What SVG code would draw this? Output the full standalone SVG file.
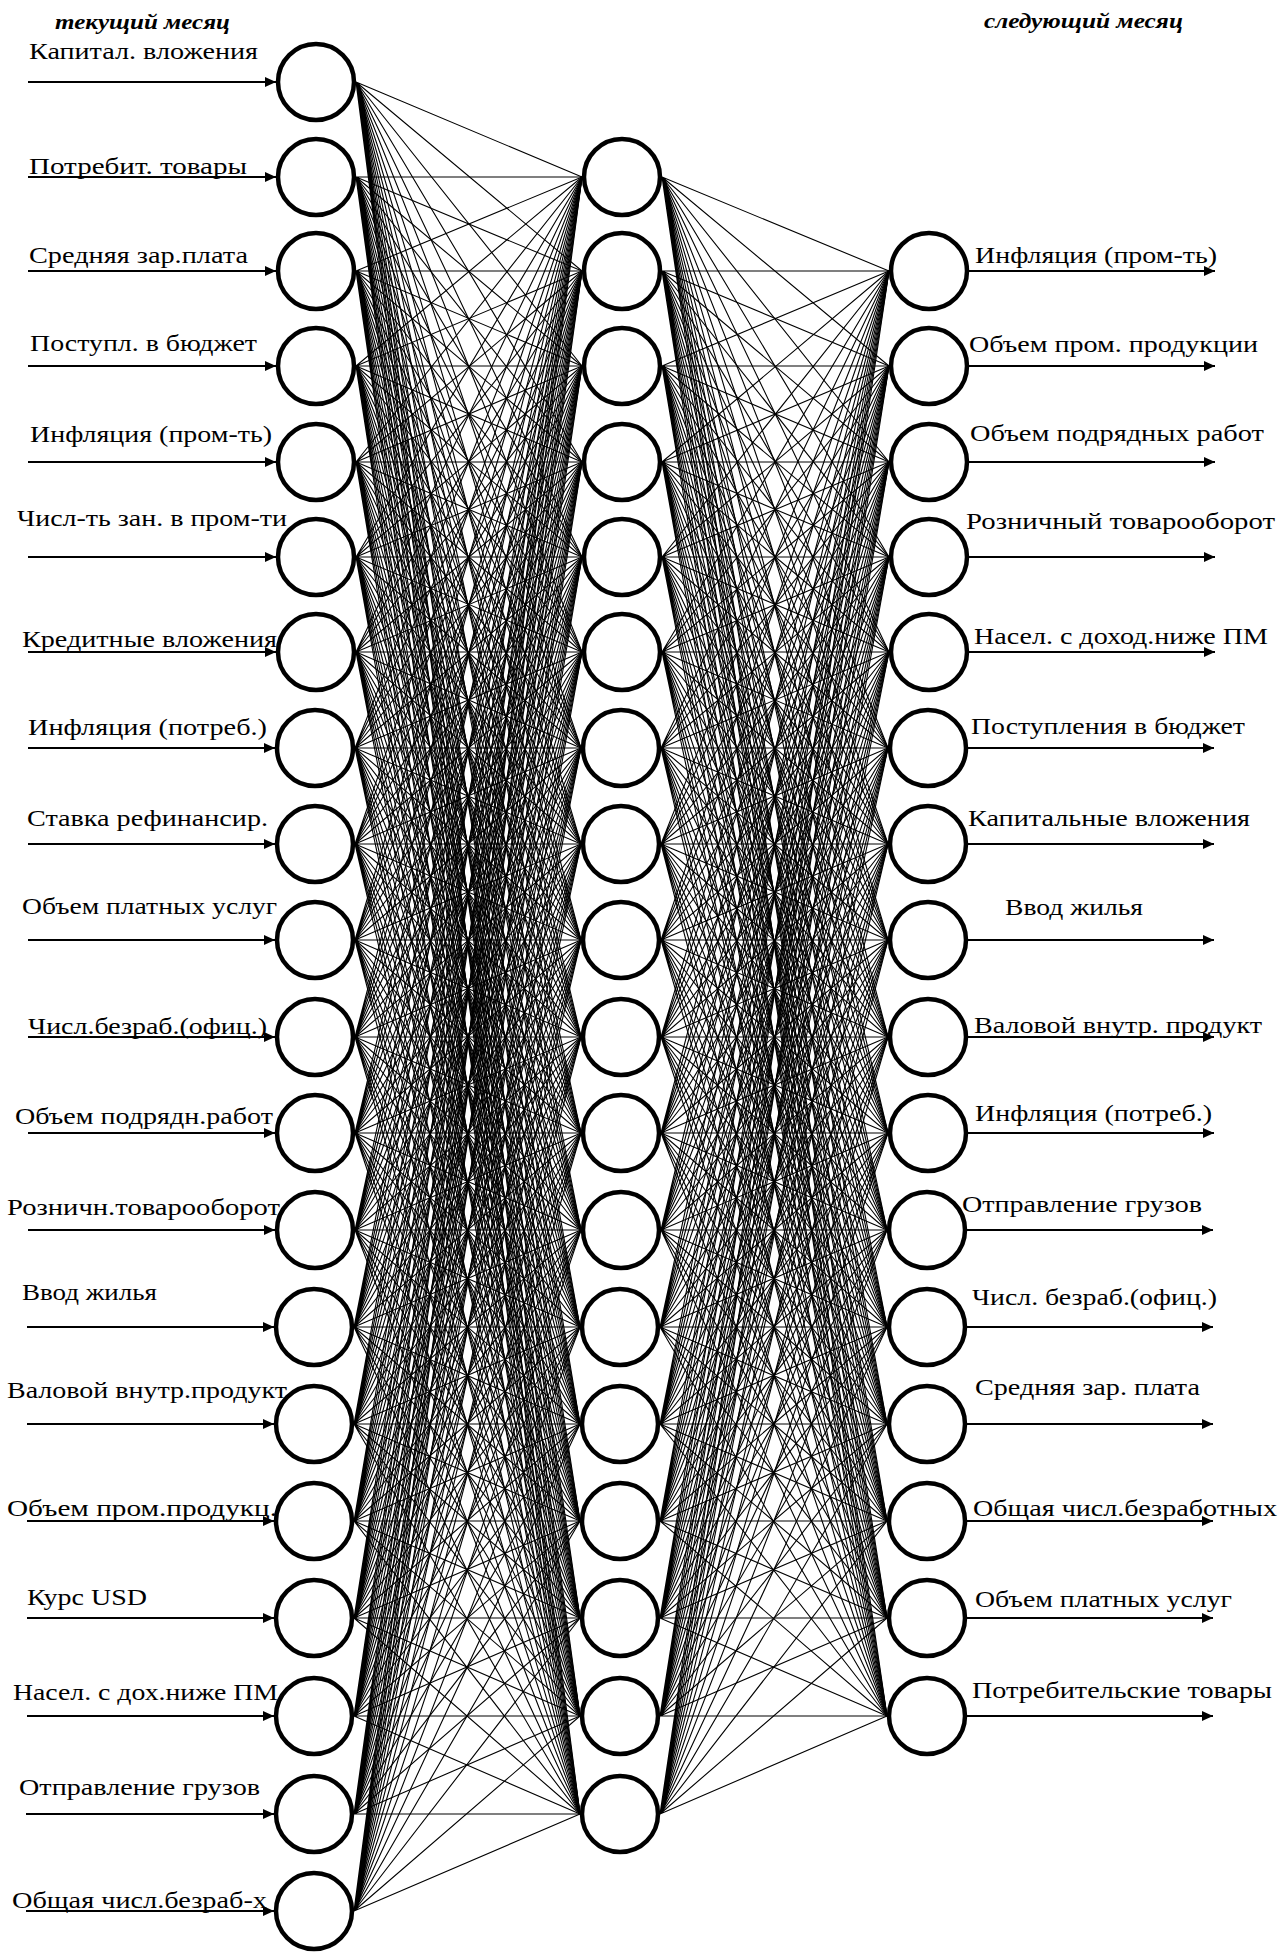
<svg xmlns="http://www.w3.org/2000/svg" width="1283" height="1953" viewBox="0 0 1283 1953">
<style>
.n{fill:#fff;stroke:#000;stroke-width:4.5}
.e{fill:none;stroke:#000;stroke-width:1.1;stroke-linejoin:round}
.a{stroke:#000;stroke-width:2;marker-end:url(#ah)}
.t{font-family:"Liberation Serif","Times New Roman",serif;font-size:24px;fill:#000}
.h{font-family:"Liberation Serif","Times New Roman",serif;font-size:22px;font-weight:bold;font-style:italic;fill:#000}
</style>
<defs>
<marker id="ah" markerUnits="userSpaceOnUse" markerWidth="12" markerHeight="10" refX="11" refY="5" orient="auto"><path d="M0 0L11 5L0 10z" fill="#000"/></marker>
</defs>
<rect width="1283" height="1953" fill="#fff"/>
<text class="h" x="55" y="29" textLength="175" lengthAdjust="spacingAndGlyphs">текущий месяц</text>
<text class="h" x="984" y="28" textLength="199" lengthAdjust="spacingAndGlyphs">следующий месяц</text>
<g id="connectors">
<g id="input-hidden" class="e">
<path d="M356 82L582 177 356 82 582 271 356 82 582 366 356 82 582 462 356 82 582 557 356 82 582 652 356 82 581 748 356 82 581 844 356 82 581 940 356 82 581 1037 356 82 581 1133 356 82 581 1230 356 82 580 1327 356 82 580 1424 356 82 580 1521 356 82 580 1618 356 82 580 1716 356 82 580 1814"/>
<path d="M356 177L582 177 356 177 582 271 356 177 582 366 356 177 582 462 356 177 582 557 356 177 582 652 356 177 581 748 356 177 581 844 356 177 581 940 356 177 581 1037 356 177 581 1133 356 177 581 1230 356 177 580 1327 356 177 580 1424 356 177 580 1521 356 177 580 1618 356 177 580 1716 356 177 580 1814"/>
<path d="M356 271L582 177 356 271 582 271 356 271 582 366 356 271 582 462 356 271 582 557 356 271 582 652 356 271 581 748 356 271 581 844 356 271 581 940 356 271 581 1037 356 271 581 1133 356 271 581 1230 356 271 580 1327 356 271 580 1424 356 271 580 1521 356 271 580 1618 356 271 580 1716 356 271 580 1814"/>
<path d="M356 366L582 177 356 366 582 271 356 366 582 366 356 366 582 462 356 366 582 557 356 366 582 652 356 366 581 748 356 366 581 844 356 366 581 940 356 366 581 1037 356 366 581 1133 356 366 581 1230 356 366 580 1327 356 366 580 1424 356 366 580 1521 356 366 580 1618 356 366 580 1716 356 366 580 1814"/>
<path d="M356 462L582 177 356 462 582 271 356 462 582 366 356 462 582 462 356 462 582 557 356 462 582 652 356 462 581 748 356 462 581 844 356 462 581 940 356 462 581 1037 356 462 581 1133 356 462 581 1230 356 462 580 1327 356 462 580 1424 356 462 580 1521 356 462 580 1618 356 462 580 1716 356 462 580 1814"/>
<path d="M356 557L582 177 356 557 582 271 356 557 582 366 356 557 582 462 356 557 582 557 356 557 582 652 356 557 581 748 356 557 581 844 356 557 581 940 356 557 581 1037 356 557 581 1133 356 557 581 1230 356 557 580 1327 356 557 580 1424 356 557 580 1521 356 557 580 1618 356 557 580 1716 356 557 580 1814"/>
<path d="M356 652L582 177 356 652 582 271 356 652 582 366 356 652 582 462 356 652 582 557 356 652 582 652 356 652 581 748 356 652 581 844 356 652 581 940 356 652 581 1037 356 652 581 1133 356 652 581 1230 356 652 580 1327 356 652 580 1424 356 652 580 1521 356 652 580 1618 356 652 580 1716 356 652 580 1814"/>
<path d="M355 748L582 177 355 748 582 271 355 748 582 366 355 748 582 462 355 748 582 557 355 748 582 652 355 748 581 748 355 748 581 844 355 748 581 940 355 748 581 1037 355 748 581 1133 355 748 581 1230 355 748 580 1327 355 748 580 1424 355 748 580 1521 355 748 580 1618 355 748 580 1716 355 748 580 1814"/>
<path d="M355 844L582 177 355 844 582 271 355 844 582 366 355 844 582 462 355 844 582 557 355 844 582 652 355 844 581 748 355 844 581 844 355 844 581 940 355 844 581 1037 355 844 581 1133 355 844 581 1230 355 844 580 1327 355 844 580 1424 355 844 580 1521 355 844 580 1618 355 844 580 1716 355 844 580 1814"/>
<path d="M355 940L582 177 355 940 582 271 355 940 582 366 355 940 582 462 355 940 582 557 355 940 582 652 355 940 581 748 355 940 581 844 355 940 581 940 355 940 581 1037 355 940 581 1133 355 940 581 1230 355 940 580 1327 355 940 580 1424 355 940 580 1521 355 940 580 1618 355 940 580 1716 355 940 580 1814"/>
<path d="M355 1037L582 177 355 1037 582 271 355 1037 582 366 355 1037 582 462 355 1037 582 557 355 1037 582 652 355 1037 581 748 355 1037 581 844 355 1037 581 940 355 1037 581 1037 355 1037 581 1133 355 1037 581 1230 355 1037 580 1327 355 1037 580 1424 355 1037 580 1521 355 1037 580 1618 355 1037 580 1716 355 1037 580 1814"/>
<path d="M355 1133L582 177 355 1133 582 271 355 1133 582 366 355 1133 582 462 355 1133 582 557 355 1133 582 652 355 1133 581 748 355 1133 581 844 355 1133 581 940 355 1133 581 1037 355 1133 581 1133 355 1133 581 1230 355 1133 580 1327 355 1133 580 1424 355 1133 580 1521 355 1133 580 1618 355 1133 580 1716 355 1133 580 1814"/>
<path d="M355 1230L582 177 355 1230 582 271 355 1230 582 366 355 1230 582 462 355 1230 582 557 355 1230 582 652 355 1230 581 748 355 1230 581 844 355 1230 581 940 355 1230 581 1037 355 1230 581 1133 355 1230 581 1230 355 1230 580 1327 355 1230 580 1424 355 1230 580 1521 355 1230 580 1618 355 1230 580 1716 355 1230 580 1814"/>
<path d="M354 1327L582 177 354 1327 582 271 354 1327 582 366 354 1327 582 462 354 1327 582 557 354 1327 582 652 354 1327 581 748 354 1327 581 844 354 1327 581 940 354 1327 581 1037 354 1327 581 1133 354 1327 581 1230 354 1327 580 1327 354 1327 580 1424 354 1327 580 1521 354 1327 580 1618 354 1327 580 1716 354 1327 580 1814"/>
<path d="M354 1424L582 177 354 1424 582 271 354 1424 582 366 354 1424 582 462 354 1424 582 557 354 1424 582 652 354 1424 581 748 354 1424 581 844 354 1424 581 940 354 1424 581 1037 354 1424 581 1133 354 1424 581 1230 354 1424 580 1327 354 1424 580 1424 354 1424 580 1521 354 1424 580 1618 354 1424 580 1716 354 1424 580 1814"/>
<path d="M354 1521L582 177 354 1521 582 271 354 1521 582 366 354 1521 582 462 354 1521 582 557 354 1521 582 652 354 1521 581 748 354 1521 581 844 354 1521 581 940 354 1521 581 1037 354 1521 581 1133 354 1521 581 1230 354 1521 580 1327 354 1521 580 1424 354 1521 580 1521 354 1521 580 1618 354 1521 580 1716 354 1521 580 1814"/>
<path d="M354 1618L582 177 354 1618 582 271 354 1618 582 366 354 1618 582 462 354 1618 582 557 354 1618 582 652 354 1618 581 748 354 1618 581 844 354 1618 581 940 354 1618 581 1037 354 1618 581 1133 354 1618 581 1230 354 1618 580 1327 354 1618 580 1424 354 1618 580 1521 354 1618 580 1618 354 1618 580 1716 354 1618 580 1814"/>
<path d="M354 1716L582 177 354 1716 582 271 354 1716 582 366 354 1716 582 462 354 1716 582 557 354 1716 582 652 354 1716 581 748 354 1716 581 844 354 1716 581 940 354 1716 581 1037 354 1716 581 1133 354 1716 581 1230 354 1716 580 1327 354 1716 580 1424 354 1716 580 1521 354 1716 580 1618 354 1716 580 1716 354 1716 580 1814"/>
<path d="M354 1814L582 177 354 1814 582 271 354 1814 582 366 354 1814 582 462 354 1814 582 557 354 1814 582 652 354 1814 581 748 354 1814 581 844 354 1814 581 940 354 1814 581 1037 354 1814 581 1133 354 1814 581 1230 354 1814 580 1327 354 1814 580 1424 354 1814 580 1521 354 1814 580 1618 354 1814 580 1716 354 1814 580 1814"/>
<path d="M354 1911L582 177 354 1911 582 271 354 1911 582 366 354 1911 582 462 354 1911 582 557 354 1911 582 652 354 1911 581 748 354 1911 581 844 354 1911 581 940 354 1911 581 1037 354 1911 581 1133 354 1911 581 1230 354 1911 580 1327 354 1911 580 1424 354 1911 580 1521 354 1911 580 1618 354 1911 580 1716 354 1911 580 1814"/>
</g>
<g id="hidden-output" class="e">
<path d="M662 177L889 271 662 177 889 366 662 177 889 462 662 177 889 557 662 177 889 652 662 177 888 748 662 177 888 844 662 177 888 940 662 177 888 1037 662 177 888 1133 662 177 887 1230 662 177 887 1327 662 177 887 1424 662 177 887 1521 662 177 887 1618 662 177 887 1716"/>
<path d="M662 271L889 271 662 271 889 366 662 271 889 462 662 271 889 557 662 271 889 652 662 271 888 748 662 271 888 844 662 271 888 940 662 271 888 1037 662 271 888 1133 662 271 887 1230 662 271 887 1327 662 271 887 1424 662 271 887 1521 662 271 887 1618 662 271 887 1716"/>
<path d="M662 366L889 271 662 366 889 366 662 366 889 462 662 366 889 557 662 366 889 652 662 366 888 748 662 366 888 844 662 366 888 940 662 366 888 1037 662 366 888 1133 662 366 887 1230 662 366 887 1327 662 366 887 1424 662 366 887 1521 662 366 887 1618 662 366 887 1716"/>
<path d="M662 462L889 271 662 462 889 366 662 462 889 462 662 462 889 557 662 462 889 652 662 462 888 748 662 462 888 844 662 462 888 940 662 462 888 1037 662 462 888 1133 662 462 887 1230 662 462 887 1327 662 462 887 1424 662 462 887 1521 662 462 887 1618 662 462 887 1716"/>
<path d="M662 557L889 271 662 557 889 366 662 557 889 462 662 557 889 557 662 557 889 652 662 557 888 748 662 557 888 844 662 557 888 940 662 557 888 1037 662 557 888 1133 662 557 887 1230 662 557 887 1327 662 557 887 1424 662 557 887 1521 662 557 887 1618 662 557 887 1716"/>
<path d="M662 652L889 271 662 652 889 366 662 652 889 462 662 652 889 557 662 652 889 652 662 652 888 748 662 652 888 844 662 652 888 940 662 652 888 1037 662 652 888 1133 662 652 887 1230 662 652 887 1327 662 652 887 1424 662 652 887 1521 662 652 887 1618 662 652 887 1716"/>
<path d="M661 748L889 271 661 748 889 366 661 748 889 462 661 748 889 557 661 748 889 652 661 748 888 748 661 748 888 844 661 748 888 940 661 748 888 1037 661 748 888 1133 661 748 887 1230 661 748 887 1327 661 748 887 1424 661 748 887 1521 661 748 887 1618 661 748 887 1716"/>
<path d="M661 844L889 271 661 844 889 366 661 844 889 462 661 844 889 557 661 844 889 652 661 844 888 748 661 844 888 844 661 844 888 940 661 844 888 1037 661 844 888 1133 661 844 887 1230 661 844 887 1327 661 844 887 1424 661 844 887 1521 661 844 887 1618 661 844 887 1716"/>
<path d="M661 940L889 271 661 940 889 366 661 940 889 462 661 940 889 557 661 940 889 652 661 940 888 748 661 940 888 844 661 940 888 940 661 940 888 1037 661 940 888 1133 661 940 887 1230 661 940 887 1327 661 940 887 1424 661 940 887 1521 661 940 887 1618 661 940 887 1716"/>
<path d="M661 1037L889 271 661 1037 889 366 661 1037 889 462 661 1037 889 557 661 1037 889 652 661 1037 888 748 661 1037 888 844 661 1037 888 940 661 1037 888 1037 661 1037 888 1133 661 1037 887 1230 661 1037 887 1327 661 1037 887 1424 661 1037 887 1521 661 1037 887 1618 661 1037 887 1716"/>
<path d="M661 1133L889 271 661 1133 889 366 661 1133 889 462 661 1133 889 557 661 1133 889 652 661 1133 888 748 661 1133 888 844 661 1133 888 940 661 1133 888 1037 661 1133 888 1133 661 1133 887 1230 661 1133 887 1327 661 1133 887 1424 661 1133 887 1521 661 1133 887 1618 661 1133 887 1716"/>
<path d="M661 1230L889 271 661 1230 889 366 661 1230 889 462 661 1230 889 557 661 1230 889 652 661 1230 888 748 661 1230 888 844 661 1230 888 940 661 1230 888 1037 661 1230 888 1133 661 1230 887 1230 661 1230 887 1327 661 1230 887 1424 661 1230 887 1521 661 1230 887 1618 661 1230 887 1716"/>
<path d="M660 1327L889 271 660 1327 889 366 660 1327 889 462 660 1327 889 557 660 1327 889 652 660 1327 888 748 660 1327 888 844 660 1327 888 940 660 1327 888 1037 660 1327 888 1133 660 1327 887 1230 660 1327 887 1327 660 1327 887 1424 660 1327 887 1521 660 1327 887 1618 660 1327 887 1716"/>
<path d="M660 1424L889 271 660 1424 889 366 660 1424 889 462 660 1424 889 557 660 1424 889 652 660 1424 888 748 660 1424 888 844 660 1424 888 940 660 1424 888 1037 660 1424 888 1133 660 1424 887 1230 660 1424 887 1327 660 1424 887 1424 660 1424 887 1521 660 1424 887 1618 660 1424 887 1716"/>
<path d="M660 1521L889 271 660 1521 889 366 660 1521 889 462 660 1521 889 557 660 1521 889 652 660 1521 888 748 660 1521 888 844 660 1521 888 940 660 1521 888 1037 660 1521 888 1133 660 1521 887 1230 660 1521 887 1327 660 1521 887 1424 660 1521 887 1521 660 1521 887 1618 660 1521 887 1716"/>
<path d="M660 1618L889 271 660 1618 889 366 660 1618 889 462 660 1618 889 557 660 1618 889 652 660 1618 888 748 660 1618 888 844 660 1618 888 940 660 1618 888 1037 660 1618 888 1133 660 1618 887 1230 660 1618 887 1327 660 1618 887 1424 660 1618 887 1521 660 1618 887 1618 660 1618 887 1716"/>
<path d="M660 1716L889 271 660 1716 889 366 660 1716 889 462 660 1716 889 557 660 1716 889 652 660 1716 888 748 660 1716 888 844 660 1716 888 940 660 1716 888 1037 660 1716 888 1133 660 1716 887 1230 660 1716 887 1327 660 1716 887 1424 660 1716 887 1521 660 1716 887 1618 660 1716 887 1716"/>
<path d="M660 1814L889 271 660 1814 889 366 660 1814 889 462 660 1814 889 557 660 1814 889 652 660 1814 888 748 660 1814 888 844 660 1814 888 940 660 1814 888 1037 660 1814 888 1133 660 1814 887 1230 660 1814 887 1327 660 1814 887 1424 660 1814 887 1521 660 1814 887 1618 660 1814 887 1716"/>
</g>
<g id="io-arrows">
<line class="a" x1="28" y1="82" x2="276" y2="82"/>
<line class="a" x1="28" y1="177" x2="276" y2="177"/>
<line class="a" x1="28" y1="271" x2="276" y2="271"/>
<line class="a" x1="28" y1="366" x2="276" y2="366"/>
<line class="a" x1="28" y1="462" x2="276" y2="462"/>
<line class="a" x1="28" y1="557" x2="276" y2="557"/>
<line class="a" x1="28" y1="652" x2="276" y2="652"/>
<line class="a" x1="28" y1="748" x2="275" y2="748"/>
<line class="a" x1="28" y1="844" x2="275" y2="844"/>
<line class="a" x1="28" y1="940" x2="275" y2="940"/>
<line class="a" x1="28" y1="1037" x2="275" y2="1037"/>
<line class="a" x1="28" y1="1133" x2="275" y2="1133"/>
<line class="a" x1="28" y1="1230" x2="275" y2="1230"/>
<line class="a" x1="27" y1="1327" x2="274" y2="1327"/>
<line class="a" x1="27" y1="1424" x2="274" y2="1424"/>
<line class="a" x1="27" y1="1521" x2="274" y2="1521"/>
<line class="a" x1="27" y1="1618" x2="274" y2="1618"/>
<line class="a" x1="27" y1="1716" x2="274" y2="1716"/>
<line class="a" x1="26" y1="1814" x2="274" y2="1814"/>
<line class="a" x1="26" y1="1911" x2="274" y2="1911"/>
<line class="a" x1="969" y1="271" x2="1215" y2="271"/>
<line class="a" x1="969" y1="366" x2="1215" y2="366"/>
<line class="a" x1="969" y1="462" x2="1215" y2="462"/>
<line class="a" x1="969" y1="557" x2="1215" y2="557"/>
<line class="a" x1="969" y1="652" x2="1215" y2="652"/>
<line class="a" x1="968" y1="748" x2="1214" y2="748"/>
<line class="a" x1="968" y1="844" x2="1214" y2="844"/>
<line class="a" x1="968" y1="940" x2="1214" y2="940"/>
<line class="a" x1="968" y1="1037" x2="1214" y2="1037"/>
<line class="a" x1="968" y1="1133" x2="1214" y2="1133"/>
<line class="a" x1="967" y1="1230" x2="1213" y2="1230"/>
<line class="a" x1="967" y1="1327" x2="1213" y2="1327"/>
<line class="a" x1="967" y1="1424" x2="1213" y2="1424"/>
<line class="a" x1="967" y1="1521" x2="1213" y2="1521"/>
<line class="a" x1="967" y1="1618" x2="1213" y2="1618"/>
<line class="a" x1="967" y1="1716" x2="1213" y2="1716"/>
</g>
</g>
<g id="input-layer">
<g id="in-0"><circle class="n" cx="316" cy="82" r="38"/><text class="t" x="29" y="59" textLength="229" lengthAdjust="spacingAndGlyphs">Капитал. вложения</text></g>
<g id="in-1"><circle class="n" cx="316" cy="177" r="38"/><text class="t" x="29" y="174" textLength="218" lengthAdjust="spacingAndGlyphs">Потребит. товары</text></g>
<g id="in-2"><circle class="n" cx="316" cy="271" r="38"/><text class="t" x="29" y="263" textLength="219" lengthAdjust="spacingAndGlyphs">Средняя зар.плата</text></g>
<g id="in-3"><circle class="n" cx="316" cy="366" r="38"/><text class="t" x="30" y="351" textLength="227" lengthAdjust="spacingAndGlyphs">Поступл. в бюджет</text></g>
<g id="in-4"><circle class="n" cx="316" cy="462" r="38"/><text class="t" x="30" y="442" textLength="242" lengthAdjust="spacingAndGlyphs">Инфляция (пром-ть)</text></g>
<g id="in-5"><circle class="n" cx="316" cy="557" r="38"/><text class="t" x="17" y="526" textLength="270" lengthAdjust="spacingAndGlyphs">Числ-ть зан. в пром-ти</text></g>
<g id="in-6"><circle class="n" cx="316" cy="652" r="38"/><text class="t" x="22" y="647" textLength="255" lengthAdjust="spacingAndGlyphs">Кредитные вложения</text></g>
<g id="in-7"><circle class="n" cx="315" cy="748" r="38"/><text class="t" x="28" y="735" textLength="239" lengthAdjust="spacingAndGlyphs">Инфляция (потреб.)</text></g>
<g id="in-8"><circle class="n" cx="315" cy="844" r="38"/><text class="t" x="27" y="826" textLength="241" lengthAdjust="spacingAndGlyphs">Ставка рефинансир.</text></g>
<g id="in-9"><circle class="n" cx="315" cy="940" r="38"/><text class="t" x="22" y="914" textLength="255" lengthAdjust="spacingAndGlyphs">Объем платных услуг</text></g>
<g id="in-10"><circle class="n" cx="315" cy="1037" r="38"/><text class="t" x="28" y="1034" textLength="239" lengthAdjust="spacingAndGlyphs">Числ.безраб.(офиц.)</text></g>
<g id="in-11"><circle class="n" cx="315" cy="1133" r="38"/><text class="t" x="15" y="1124" textLength="258" lengthAdjust="spacingAndGlyphs">Объем подрядн.работ</text></g>
<g id="in-12"><circle class="n" cx="315" cy="1230" r="38"/><text class="t" x="7" y="1215" textLength="273" lengthAdjust="spacingAndGlyphs">Розничн.товарооборот</text></g>
<g id="in-13"><circle class="n" cx="314" cy="1327" r="38"/><text class="t" x="22" y="1300" textLength="135" lengthAdjust="spacingAndGlyphs">Ввод жилья</text></g>
<g id="in-14"><circle class="n" cx="314" cy="1424" r="38"/><text class="t" x="7" y="1398" textLength="280" lengthAdjust="spacingAndGlyphs">Валовой внутр.продукт</text></g>
<g id="in-15"><circle class="n" cx="314" cy="1521" r="38"/><text class="t" x="7" y="1516" textLength="270" lengthAdjust="spacingAndGlyphs">Объем пром.продукц.</text></g>
<g id="in-16"><circle class="n" cx="314" cy="1618" r="38"/><text class="t" x="27" y="1605" textLength="120" lengthAdjust="spacingAndGlyphs">Курс USD</text></g>
<g id="in-17"><circle class="n" cx="314" cy="1716" r="38"/><text class="t" x="13" y="1700" textLength="265" lengthAdjust="spacingAndGlyphs">Насел. с дох.ниже ПМ</text></g>
<g id="in-18"><circle class="n" cx="314" cy="1814" r="38"/><text class="t" x="19" y="1795" textLength="241" lengthAdjust="spacingAndGlyphs">Отправление грузов</text></g>
<g id="in-19"><circle class="n" cx="314" cy="1911" r="38"/><text class="t" x="12" y="1908" textLength="255" lengthAdjust="spacingAndGlyphs">Общая числ.безраб-х</text></g>
</g>
<g id="hidden-layer">
<g id="h-1"><circle class="n" cx="622" cy="177" r="38"/></g>
<g id="h-2"><circle class="n" cx="622" cy="271" r="38"/></g>
<g id="h-3"><circle class="n" cx="622" cy="366" r="38"/></g>
<g id="h-4"><circle class="n" cx="622" cy="462" r="38"/></g>
<g id="h-5"><circle class="n" cx="622" cy="557" r="38"/></g>
<g id="h-6"><circle class="n" cx="622" cy="652" r="38"/></g>
<g id="h-7"><circle class="n" cx="621" cy="748" r="38"/></g>
<g id="h-8"><circle class="n" cx="621" cy="844" r="38"/></g>
<g id="h-9"><circle class="n" cx="621" cy="940" r="38"/></g>
<g id="h-10"><circle class="n" cx="621" cy="1037" r="38"/></g>
<g id="h-11"><circle class="n" cx="621" cy="1133" r="38"/></g>
<g id="h-12"><circle class="n" cx="621" cy="1230" r="38"/></g>
<g id="h-13"><circle class="n" cx="620" cy="1327" r="38"/></g>
<g id="h-14"><circle class="n" cx="620" cy="1424" r="38"/></g>
<g id="h-15"><circle class="n" cx="620" cy="1521" r="38"/></g>
<g id="h-16"><circle class="n" cx="620" cy="1618" r="38"/></g>
<g id="h-17"><circle class="n" cx="620" cy="1716" r="38"/></g>
<g id="h-18"><circle class="n" cx="620" cy="1814" r="38"/></g>
</g>
<g id="output-layer">
<g id="out-2"><circle class="n" cx="929" cy="271" r="38"/><text class="t" x="975" y="263" textLength="242" lengthAdjust="spacingAndGlyphs">Инфляция (пром-ть)</text></g>
<g id="out-3"><circle class="n" cx="929" cy="366" r="38"/><text class="t" x="969" y="352" textLength="289" lengthAdjust="spacingAndGlyphs">Объем пром. продукции</text></g>
<g id="out-4"><circle class="n" cx="929" cy="462" r="38"/><text class="t" x="970" y="441" textLength="294" lengthAdjust="spacingAndGlyphs">Объем подрядных работ</text></g>
<g id="out-5"><circle class="n" cx="929" cy="557" r="38"/><text class="t" x="966" y="529" textLength="309" lengthAdjust="spacingAndGlyphs">Розничный товарооборот</text></g>
<g id="out-6"><circle class="n" cx="929" cy="652" r="38"/><text class="t" x="974" y="644" textLength="294" lengthAdjust="spacingAndGlyphs">Насел. с доход.ниже ПМ</text></g>
<g id="out-7"><circle class="n" cx="928" cy="748" r="38"/><text class="t" x="971" y="734" textLength="274" lengthAdjust="spacingAndGlyphs">Поступления в бюджет</text></g>
<g id="out-8"><circle class="n" cx="928" cy="844" r="38"/><text class="t" x="968" y="826" textLength="282" lengthAdjust="spacingAndGlyphs">Капитальные вложения</text></g>
<g id="out-9"><circle class="n" cx="928" cy="940" r="38"/><text class="t" x="1005" y="915" textLength="138" lengthAdjust="spacingAndGlyphs">Ввод жилья</text></g>
<g id="out-10"><circle class="n" cx="928" cy="1037" r="38"/><text class="t" x="974" y="1033" textLength="288" lengthAdjust="spacingAndGlyphs">Валовой внутр. продукт</text></g>
<g id="out-11"><circle class="n" cx="928" cy="1133" r="38"/><text class="t" x="975" y="1121" textLength="237" lengthAdjust="spacingAndGlyphs">Инфляция (потреб.)</text></g>
<g id="out-12"><circle class="n" cx="927" cy="1230" r="38"/><text class="t" x="962" y="1212" textLength="240" lengthAdjust="spacingAndGlyphs">Отправление грузов</text></g>
<g id="out-13"><circle class="n" cx="927" cy="1327" r="38"/><text class="t" x="972" y="1305" textLength="245" lengthAdjust="spacingAndGlyphs">Числ. безраб.(офиц.)</text></g>
<g id="out-14"><circle class="n" cx="927" cy="1424" r="38"/><text class="t" x="975" y="1395" textLength="225" lengthAdjust="spacingAndGlyphs">Средняя зар. плата</text></g>
<g id="out-15"><circle class="n" cx="927" cy="1521" r="38"/><text class="t" x="973" y="1516" textLength="304" lengthAdjust="spacingAndGlyphs">Общая числ.безработных</text></g>
<g id="out-16"><circle class="n" cx="927" cy="1618" r="38"/><text class="t" x="975" y="1607" textLength="257" lengthAdjust="spacingAndGlyphs">Объем платных услуг</text></g>
<g id="out-17"><circle class="n" cx="927" cy="1716" r="38"/><text class="t" x="972" y="1698" textLength="300" lengthAdjust="spacingAndGlyphs">Потребительские товары</text></g>
</g>
</svg>
